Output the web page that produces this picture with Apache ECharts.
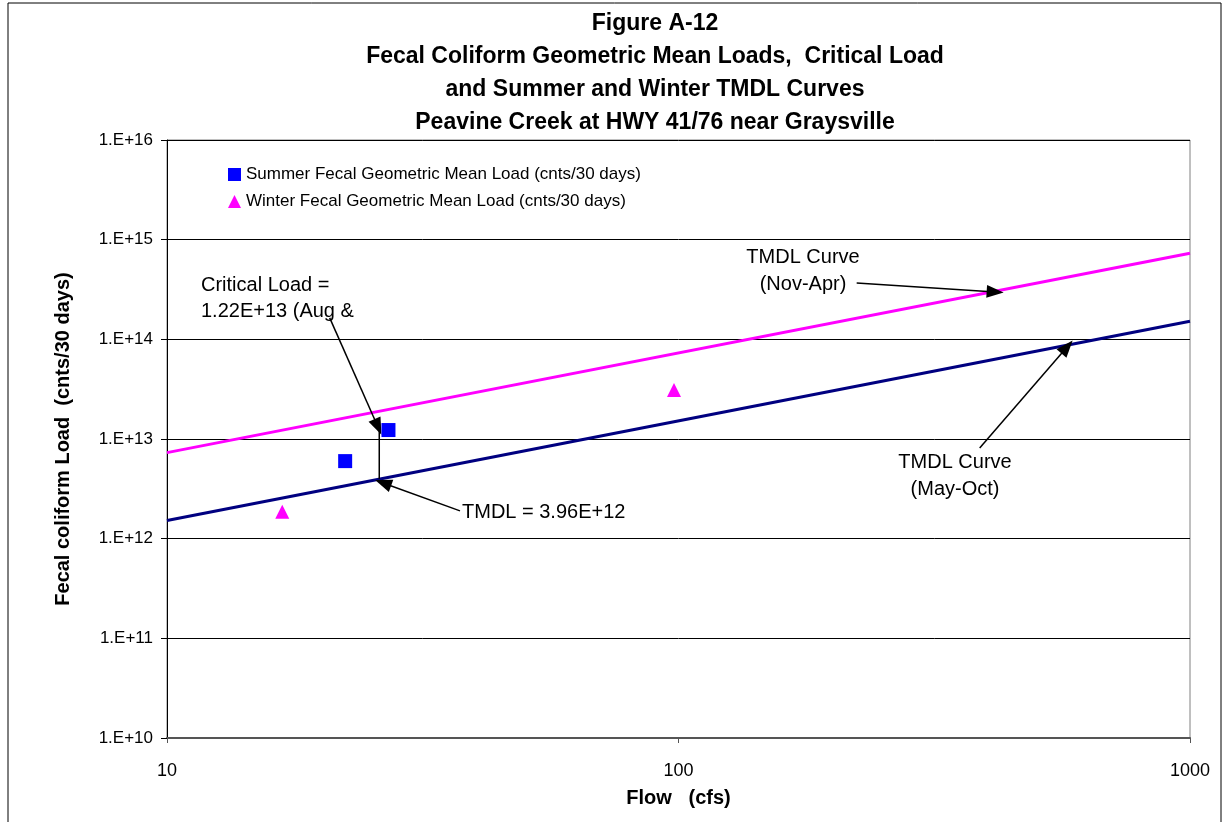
<!DOCTYPE html>
<html><head><meta charset="utf-8">
<script src="https://cdn.jsdelivr.net/npm/echarts@6/dist/echarts.min.js"></script>
<style>html,body{margin:0;padding:0;background:#fff}#c{width:1224px;height:822px}</style>
</head><body><div id="c"></div>
<script>
// ---- data ----
const titleLines = ['Figure A-12','Fecal Coliform Geometric Mean Loads,  Critical Load','and Summer and Winter TMDL Curves','Peavine Creek at HWY 41/76 near Graysville'];
const summerFlow = [22.3, 27.1];
const summerLoad = [6.0e12, 1.23e13];
const winterFlow = [16.8, 98];
const winterLoad = [1.86e12, 3.1e13];
const curveFlow = [10, 1000];
const winterTMDL = [7.3e12, 7.3e14];
const summerTMDL = [1.52e12, 1.52e14];
const criticalFlow = 26;
const criticalLoad = 1.22e13;
const tmdlAtCritical = 3.96e12;
// annotation arrows [start, end] in data units (flow, load)
const arrowCritical = [[20.8, 1.64e14], [25.85, 1.32e13]];
const arrowTmdl = [[37.4, 1.9e12], [26.45, 3.62e12]];
const arrowWinter = [[223, 3.67e14], [416, 2.99e14]];
const arrowSummer = [[388, 8.13e12], [575, 8.37e13]];

const chart = echarts.init(document.getElementById('c'));
const F = 'Liberation Sans, Arial, sans-serif';
const arrowLine = (a) => [{coord: a[0], symbol: 'none'}, {coord: a[1], symbol: 'triangle'}];
const note = (x, y, s, align, lh) => ({type: 'text', x: x, y: y,
  style: {text: s, font: '20px ' + F, fill: '#000', textAlign: align, textVerticalAlign: 'middle', lineHeight: lh || 26}});

chart.setOption({
  animation: false,
  grid: {left: 167, right: 34, top: 140, bottom: 84, show: true, borderColor: '#808080', borderWidth: 1},
  legend: {
    left: 223, top: 161, orient: 'vertical', itemGap: 10, itemWidth: 13, itemHeight: 13,
    textStyle: {fontFamily: F, fontSize: 17, color: '#000'},
    data: [{name: 'Summer Fecal Geometric Mean Load (cnts/30 days)', icon: 'rect'},
           {name: 'Winter Fecal Geometric Mean Load (cnts/30 days)', icon: 'triangle'}]
  },
  xAxis: {
    type: 'log', logBase: 10, min: 10, max: 1000,
    name: 'Flow   (cfs)', nameLocation: 'middle', nameGap: 50,
    nameTextStyle: {fontFamily: F, fontSize: 20, fontWeight: 'bold', color: '#000'},
    axisLine: {lineStyle: {color: '#555', width: 2}},
    axisTick: {show: true, length: 5, lineStyle: {color: '#555'}},
    minorTick: {show: false},
    splitLine: {show: false},
    axisLabel: {fontFamily: F, fontSize: 18, color: '#000', margin: 24, formatter: v => String(Math.round(v))}
  },
  yAxis: {
    type: 'log', logBase: 10, min: 1e10, max: 1e16,
    name: 'Fecal coliform Load  (cnts/30 days)', nameLocation: 'middle', nameGap: 94,
    nameTextStyle: {fontFamily: F, fontSize: 20, fontWeight: 'bold', color: '#000'},
    axisLine: {show: true, lineStyle: {color: '#000', width: 1}},
    axisTick: {show: true, length: 6, lineStyle: {color: '#000'}},
    splitLine: {show: true, lineStyle: {color: '#000', width: 1}},
    axisLabel: {fontFamily: F, fontSize: 17, color: '#000', margin: 14,
      formatter: v => '1.E+' + Math.round(Math.log10(v))}
  },
  series: [
    {name: 'TMDL Curve (Nov-Apr)', type: 'line', data: curveFlow.map((f, i) => [f, winterTMDL[i]]),
     symbol: 'none', lineStyle: {color: '#FF00FF', width: 3}, z: 3},
    {name: 'TMDL Curve (May-Oct)', type: 'line', data: curveFlow.map((f, i) => [f, summerTMDL[i]]),
     symbol: 'none', lineStyle: {color: '#000080', width: 3}, z: 3},
    {name: 'Critical', type: 'line', data: [[criticalFlow, criticalLoad], [criticalFlow, tmdlAtCritical]],
     symbol: 'none', lineStyle: {color: '#000', width: 1.5}, z: 4,
     markLine: {silent: true, symbolSize: [13, 17], label: {show: false},
       lineStyle: {color: '#000', width: 1.5, type: 'solid'},
       data: [arrowLine(arrowCritical), arrowLine(arrowTmdl), arrowLine(arrowWinter), arrowLine(arrowSummer)]}},
    {name: 'Summer Fecal Geometric Mean Load (cnts/30 days)', type: 'scatter',
     data: summerFlow.map((f, i) => [f, summerLoad[i]]), symbol: 'rect', symbolSize: 14,
     itemStyle: {color: '#0000FF', opacity: 1}, z: 5},
    {name: 'Winter Fecal Geometric Mean Load (cnts/30 days)', type: 'scatter',
     data: winterFlow.map((f, i) => [f, winterLoad[i]]), symbol: 'triangle', symbolSize: 14,
     itemStyle: {color: '#FF00FF', opacity: 1}, z: 5}
  ],
  graphic: [
    {type: 'rect', shape: {x: 8, y: 3, width: 1213, height: 840}, style: {fill: 'none', stroke: '#000', lineWidth: 1}, silent: true},
    ...titleLines.map((s, i) => ({type: 'text', x: 655, y: 24 + i * 33,
      style: {text: s, font: 'bold 23px ' + F, fill: '#000', textAlign: 'center', textVerticalAlign: 'middle'}})),
    note(201, 298, 'Critical Load =\n1.22E+13 (Aug &', 'left', 26),
    note(462, 512, 'TMDL = 3.96E+12', 'left'),
    note(803, 271, 'TMDL Curve\n(Nov-Apr)', 'center', 27),
    note(955, 476, 'TMDL Curve\n(May-Oct)', 'center', 27)
  ]
});
</script></body></html>
